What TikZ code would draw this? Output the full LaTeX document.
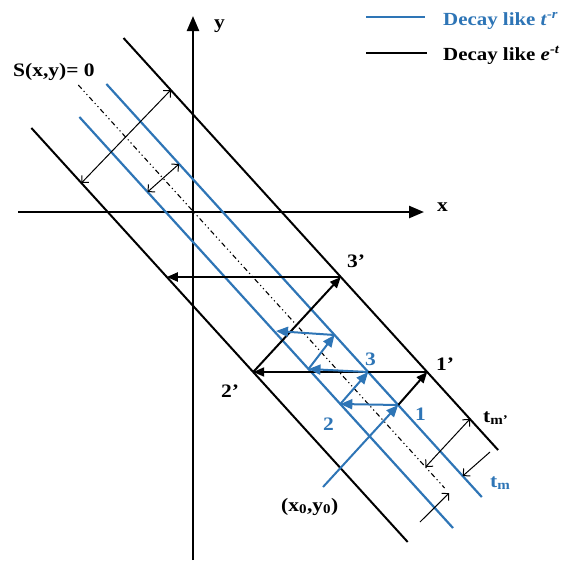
\documentclass[tikz,border=0pt]{standalone}
\usepackage{fontspec}
\setmainfont{Liberation Serif}[FakeStretch=1.13]
\usetikzlibrary{arrows.meta}
\definecolor{myblue}{RGB}{46,117,182}
\begin{document}
\begin{tikzpicture}[x=1pt,y=-1pt,
  blackline/.style={line width=2pt, black},
  blueline/.style={line width=2.2pt, myblue},
  centerline/.style={line width=1.1pt, dash pattern=on 5pt off 3pt on 1.2pt off 3pt on 1.2pt off 3pt},
  axisline/.style={line width=2.4pt, -{Triangle[length=15pt,width=12pt]}},
  measboth/.style={line width=1pt, {Straight Barb[length=5pt,width=10pt]}-{Straight Barb[length=5pt,width=10pt]}},
  measone/.style={line width=1pt, -{Straight Barb[length=5pt,width=10pt]}},
  barrow/.style={line width=2pt, -{Triangle[length=11pt,width=9pt]}},
  blarrow/.style={line width=2pt, myblue, -{Triangle[length=12pt,width=10pt]}},
  lbl/.style={font=\fontsize{19}{22}\selectfont\bfseries, inner sep=0pt, anchor=base west},
  leglbl/.style={font=\fontsize{18.5}{22}\selectfont\bfseries, inner sep=0pt, anchor=base west},
]
\useasboundingbox (0,0) rectangle (561,560);

% axes
\coordinate (yb) at (193,560);
\coordinate (yt) at (193,16);
\coordinate (xl) at (18,212);
\coordinate (xr) at (424,212);
\draw[axisline] (yb) -- (yt);
\draw[axisline] (xl) -- (xr);
\node[lbl] (ylab) at (214,28) {y};
\node[lbl] (xlab) at (437,211) {x};

% strip lines (x = x0 + y/1.1)
\coordinate (L1a) at (31.4,128); \coordinate (L1b) at (407.7,542);
\coordinate (L2a) at (79.4,117); \coordinate (L2b) at (453,528);
\coordinate (Ca) at (78.3,85);   \coordinate (Cb) at (444.6,488);
\coordinate (L3a) at (106.4,84); \coordinate (L3b) at (481.8,497);
\coordinate (L4a) at (123.5,38); \coordinate (L4b) at (498.1,450);
\draw[blackline] (L1a) -- (L1b);
\draw[blackline] (L4a) -- (L4b);
\draw[blueline] (L2a) -- (L2b);
\draw[blueline] (L3a) -- (L3b);
\draw[centerline] (Ca) -- (Cb);

% width measures
\coordinate (m1a) at (81.4,183); \coordinate (m1b) at (170.8,90);
\draw[measboth] (m1a) -- (m1b);
\coordinate (m2a) at (147.5,192); \coordinate (m2b) at (179,164);
\draw[measboth] (m2a) -- (m2b);
\coordinate (m3a) at (425.5,467); \coordinate (m3b) at (469.9,419);
\draw[measboth] (m3a) -- (m3b);
\coordinate (m4s) at (420,522); \coordinate (m4e) at (449.2,493);
\draw[measone] (m4s) -- (m4e);
\coordinate (m5s) at (490,452); \coordinate (m5e) at (462.7,476);
\draw[measone] (m5s) -- (m5e);

% path points
\coordinate (X0) at (323,487);
\coordinate (P1) at (398.2,405);
\coordinate (P1p) at (427.2,372);
\coordinate (P2p) at (253.2,372);
\coordinate (P3p) at (340.8,277);
\coordinate (P4) at (166.8,277);
\coordinate (P2) at (340.3,404);
\coordinate (P3) at (368.2,372);
\coordinate (Q1) at (308.5,369);
\coordinate (Q2) at (334.5,335);
\coordinate (Q3) at (276,331);

% black arrows
\draw[barrow] (P1) -- (P1p);
\draw[barrow] (P1p) -- (P2p);
\draw[barrow] (P2p) -- (P3p);
\draw[barrow] (P3p) -- (P4);

% blue arrows
\draw[blarrow] (X0) -- (P1);
\draw[blarrow] (P1) -- (P2);
\draw[blarrow] (P2) -- (P3);
\draw[blarrow] (P3) -- (Q1);
\draw[blarrow] (Q1) -- (Q2);
\draw[blarrow] (Q2) -- (Q3);

% labels
\node[lbl] (slab) at (13,76) {S(x,y)= 0};
\node[lbl] (l3p) at (347,267) {3’};
\node[lbl] (l1p) at (436,370) {1’};
\node[lbl] (l2p) at (221,397) {2’};
\node[lbl, text=myblue] (b3) at (365,365) {3};
\node[lbl, text=myblue] (b1) at (415,420) {1};
\node[lbl, text=myblue] (b2) at (323,430) {2};
\node[lbl] (x0lab) at (281,511) {(x\textsubscript{0},y\textsubscript{0})};
\node[lbl] (tmp) at (483,422) {t\textsubscript{m’}};
\node[lbl, text=myblue] (tm) at (490,487) {t\textsubscript{m}};

% legend
\coordinate (lg1a) at (366,17); \coordinate (lg1b) at (425,17);
\coordinate (lg2a) at (366,53); \coordinate (lg2b) at (427,53);
\draw[blueline] (lg1a) -- (lg1b);
\draw[line width=2.2pt] (lg2a) -- (lg2b);
\node[leglbl, text=myblue] (leg1) at (443,25) {Decay like \textit{t}\textsuperscript{\textit{-r}}};
\node[leglbl] (leg2) at (443,60) {Decay like \textit{e}\textsuperscript{\textit{-t}}};
\end{tikzpicture}
\end{document}
